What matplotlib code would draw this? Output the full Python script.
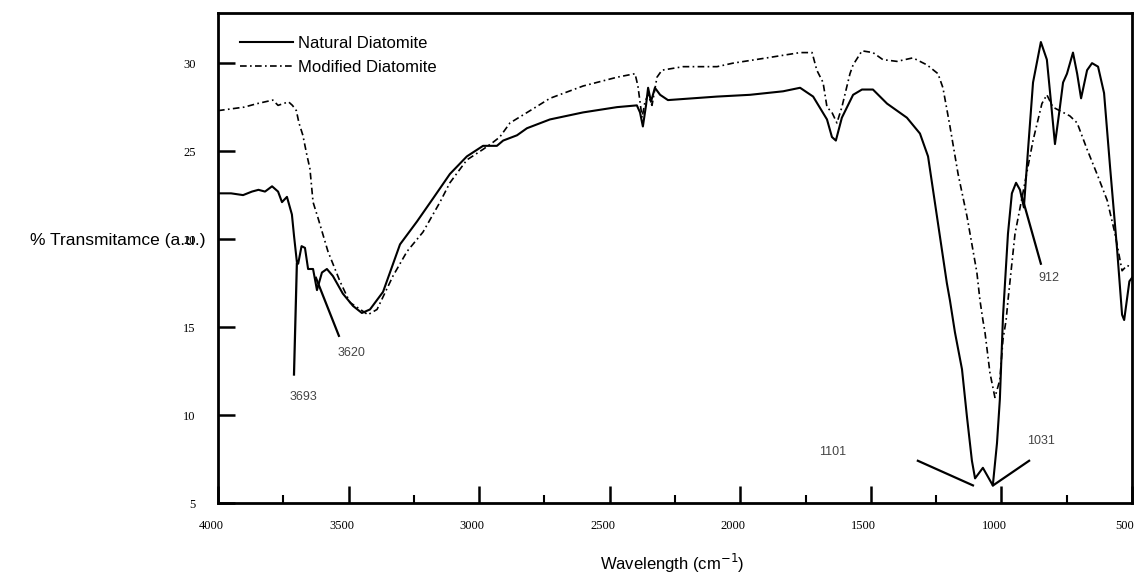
import matplotlib
matplotlib.use('Agg')
import matplotlib.pyplot as plt
import matplotlib.transforms as mtransforms
from matplotlib.ticker import MultipleLocator

# ---------------- data ----------------
natural_wn = [4000, 3950, 3904, 3870, 3845, 3820, 3793, 3770, 3755, 3736, 3717, 3709,
              3698, 3693, 3680, 3667, 3655, 3636, 3621, 3602, 3583, 3560, 3522, 3483,
              3449, 3418, 3368, 3303, 3238, 3177, 3112, 3047, 2985, 2932, 2908, 2855,
              2817, 2729, 2602, 2472, 2396, 2384, 2373, 2361, 2353, 2342, 2327, 2307,
              2277, 2089, 1963, 1836, 1771, 1721, 1668, 1649, 1634, 1611, 1568, 1534,
              1492, 1438, 1362, 1312, 1281, 1247, 1209, 1197, 1178, 1151, 1132, 1113,
              1101, 1086, 1071, 1052, 1033, 1017, 1006, 994, 975, 960, 944, 929, 914,
              898, 879, 849, 826, 811, 795, 776, 764, 749, 726, 710, 695, 672, 653,
              630, 607, 584, 557, 538, 530, 520, 510, 500]
natural_t = [22.6, 22.6, 22.5, 22.7, 22.8, 22.7, 23.0, 22.7, 22.1, 22.4, 21.4, 20.2,
             18.7, 18.6, 19.6, 19.5, 18.3, 18.3, 17.1, 18.1, 18.3, 17.9, 16.9, 16.2,
             15.8, 16.0, 17.0, 19.7, 21.0, 22.3, 23.7, 24.7, 25.3, 25.3, 25.6, 25.9,
             26.3, 26.8, 27.2, 27.5, 27.6, 27.2, 26.4, 27.6, 28.6, 27.8, 28.6, 28.2,
             27.9, 28.1, 28.2, 28.4, 28.6, 28.1, 26.8, 25.8, 25.6, 26.9, 28.2, 28.5,
             28.5, 27.7, 26.9, 26.0, 24.7, 21.3, 17.5, 16.5, 14.7, 12.6, 9.9, 7.4,
             6.4, 6.7, 7.0, 6.5, 6.0, 8.4, 10.9, 15.6, 20.3, 22.6, 23.2, 22.8, 21.8,
             25.1, 28.9, 31.2, 30.2, 27.9, 25.4, 27.5, 28.9, 29.4, 30.6, 29.4, 28.0, 29.6, 30.0,
             29.8, 28.3, 24.1, 19.4, 15.7, 15.4, 16.5, 17.6, 17.8]

modified_wn = [4000, 3950, 3900, 3850, 3820, 3790, 3770, 3750, 3730, 3715, 3700, 3690,
               3675, 3660, 3648, 3636, 3617, 3579, 3533, 3495, 3445, 3426, 3391, 3330,
               3276, 3215, 3150, 3112, 3047, 2985, 2947, 2921, 2882, 2794, 2729, 2602,
               2472, 2403, 2392, 2376, 2365, 2353, 2338, 2319, 2300, 2219, 2089, 2028,
               1898, 1771, 1725, 1707, 1683, 1668, 1649, 1630, 1611, 1580, 1568, 1534,
               1492, 1454, 1400, 1339, 1285, 1243, 1224, 1197, 1166, 1132, 1094, 1082,
               1071, 1063, 1044, 1025, 1006, 994, 982, 975, 948, 918, 879, 845, 826,
               803, 764, 738, 710, 672, 634, 595, 565, 538, 519, 500]
modified_t = [27.3, 27.4, 27.5, 27.7, 27.8, 27.9, 27.6, 27.7, 27.8, 27.6, 27.3, 26.6,
              25.9, 24.8, 24.0, 22.1, 21.2, 19.3, 17.6, 16.4, 15.9, 15.7, 16.0, 17.9,
              19.3, 20.4, 22.1, 23.2, 24.5, 25.1, 25.5, 25.8, 26.6, 27.4, 28.0, 28.7,
              29.2, 29.4, 28.7, 26.9, 27.8, 28.2, 27.6, 29.2, 29.6, 29.8, 29.8, 30.0,
              30.3, 30.6, 30.6, 29.6, 28.9, 27.5, 27.2, 26.6, 27.5, 29.4, 29.9, 30.7,
              30.6, 30.2, 30.1, 30.3, 29.9, 29.4, 28.6, 26.4, 23.7, 21.3, 18.1, 16.5,
              15.4, 14.7, 12.4, 11.0, 12.0, 14.3, 15.4, 16.5, 20.3, 22.6, 25.6, 27.7, 28.2,
              27.5, 27.2, 27.0, 26.6, 25.1, 23.7, 22.2, 20.3, 18.2, 18.5, 18.4]

# peak labels: text, text position, leader line (wn, T) start -> end
peak_labels = ['3693', '3620', '1101', '1031', '912']
label_pos = [(3674, 11.0), (3487, 13.5), (1645, 7.9), (849, 8.5), (818, 17.8)]
leader_lines = [((3709, 12.3), (3698, 18.6)),
                ((3625, 17.8), (3537, 14.5)),
                ((1320, 7.4), (1109, 6.0)),
                ((1032, 6.0), (894, 7.4)),
                ((921, 22.4), (849, 18.6))]

# ---------------- figure ----------------
fig = plt.figure(figsize=(11.35, 5.74), dpi=100)
ax = fig.add_axes([218 / 1135, 1 - 503 / 574, 914 / 1135, 490 / 574])

ax.plot(natural_wn, natural_t, color='black', lw=1.5, label='Natural Diatomite')
ax.plot(modified_wn, modified_t, color='black', lw=1.2, linestyle=(0, (4, 2, 1, 2)),
        label='Modified Diatomite')

for txt, (tx, ty), ((x0, y0), (x1, y1)) in zip(peak_labels, label_pos, leader_lines):
    ax.plot([x0, x1], [y0, y1], color='black', lw=1.6)
    ax.text(tx, ty, txt, ha='center', va='center', fontsize=9, color='#444444',
            family='Liberation Sans')

ax.set_xlim(4000, 500)
ax.set_ylim(5, 32.85)
ax.xaxis.set_major_locator(MultipleLocator(500))
ax.xaxis.set_minor_locator(MultipleLocator(250))
ax.yaxis.set_major_locator(MultipleLocator(5))

ax.tick_params(axis='both', which='major', direction='in', length=12, width=1.8)
ax.tick_params(axis='x', which='minor', direction='in', length=6, width=1.5)
ax.tick_params(axis='x', pad=12)
ax.tick_params(axis='y', pad=16)
ax.tick_params(top=False, right=False)

# x labels sit a little left of their ticks in the original
shift = mtransforms.ScaledTranslation(-7 / 100, 0, fig.dpi_scale_trans)
for lab in ax.get_xticklabels():
    lab.set_transform(lab.get_transform() + shift)
for lab in ax.get_xticklabels() + ax.get_yticklabels():
    lab.set_family('Liberation Serif')
    lab.set_fontsize(9)
for sp in ax.spines.values():
    sp.set_linewidth(2)

ax.legend(loc='upper left', bbox_to_anchor=(0.015, 0.97), frameon=False,
          handlelength=3.2, handletextpad=0.3, labelspacing=0.55, borderpad=0,
          prop={'family': 'Liberation Sans', 'size': 12})

fig.text(205 / 1135, 1 - 241 / 574, '% Transmitamce (a.u.)', ha='right', va='center',
         fontsize=12.5, family='Liberation Sans')
fig.text(672 / 1135, 1 - 563 / 574, 'Wavelength (cm$^{-1}$)', ha='center', va='center',
         fontsize=12, family='Liberation Sans')

plt.savefig('out.png', dpi=100)
